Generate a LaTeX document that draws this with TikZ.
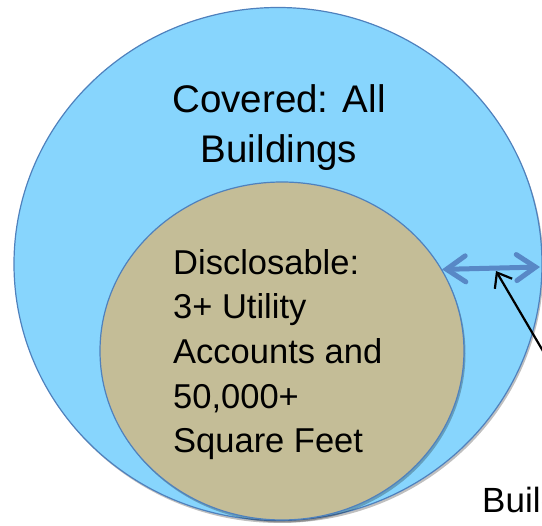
\documentclass[tikz,border=0pt]{standalone}
\usepackage{fontspec}
\setmainfont{Liberation Sans}
\usetikzlibrary{shapes.geometric,arrows.meta,shadows}
\definecolor{skyfill}{RGB}{135,213,253}
\definecolor{rimblue}{RGB}{79,129,189}
\definecolor{tanfill}{RGB}{196,189,151}
\definecolor{arrowblue}{RGB}{88,136,198}
\tikzset{
  ring/.style={ellipse, draw=rimblue, line width=1.2pt, inner sep=0pt,
    drop shadow={shadow xshift=1.5pt, shadow yshift=-2.5pt, opacity=0.25, fill=black}},
  bigtxt/.style={font=\fontsize{38.5}{46}\selectfont, inner sep=0pt, anchor=base},
  midtxt/.style={font=\fontsize{34.5}{42}\selectfont, inner sep=0pt, anchor=base west},
  smalltxt/.style={font=\fontsize{35}{42}\selectfont, inner sep=0pt, anchor=base west},
  gaparrow/.style={draw=arrowblue, line width=5pt, line cap=round,
    {Straight Barb[length=19pt,width=26pt,line cap=round]}-{Straight Barb[length=19pt,width=26pt,line cap=round]}},
  pointer/.style={draw=black, line width=2.2pt, -{Straight Barb[length=13pt,width=20pt]}}
}
\begin{document}
\begin{tikzpicture}[x=1pt,y=-1pt]
\useasboundingbox (0,0) rectangle (542,526);
\clip (0,0) rectangle (542,526);
\node[ring, fill=skyfill, minimum width=528pt, minimum height=513pt] (covered) at (278,264) {};
\node[ring, fill=tanfill, minimum width=364pt, minimum height=338pt] (disc) at (282,351) {};
\node[bigtxt] (cov1) at (279,113) {Covered: All};
\node[bigtxt] (cov2) at (279,163) {Buildings};
\node[midtxt] (d1) at (173,275) {Disclosable:};
\node[midtxt] (d2) at (173,319) {3+ Utility};
\node[midtxt] (d3) at (173,364) {Accounts and};
\node[midtxt] (d4) at (173,409) {50,000+};
\node[midtxt] (d5) at (173,453) {Square Feet};
\node[smalltxt] (lbl) at (482,513) {Build};
\coordinate (gapL) at (disc.27);
\coordinate (gapR) at (540,267);
\draw[gaparrow] (gapL) -- (gapR);
\coordinate (ptrTail) at (560,380);
\coordinate (ptrTip) at (496,271);
\draw[pointer] (ptrTail) -- (ptrTip);
\end{tikzpicture}
\end{document}
